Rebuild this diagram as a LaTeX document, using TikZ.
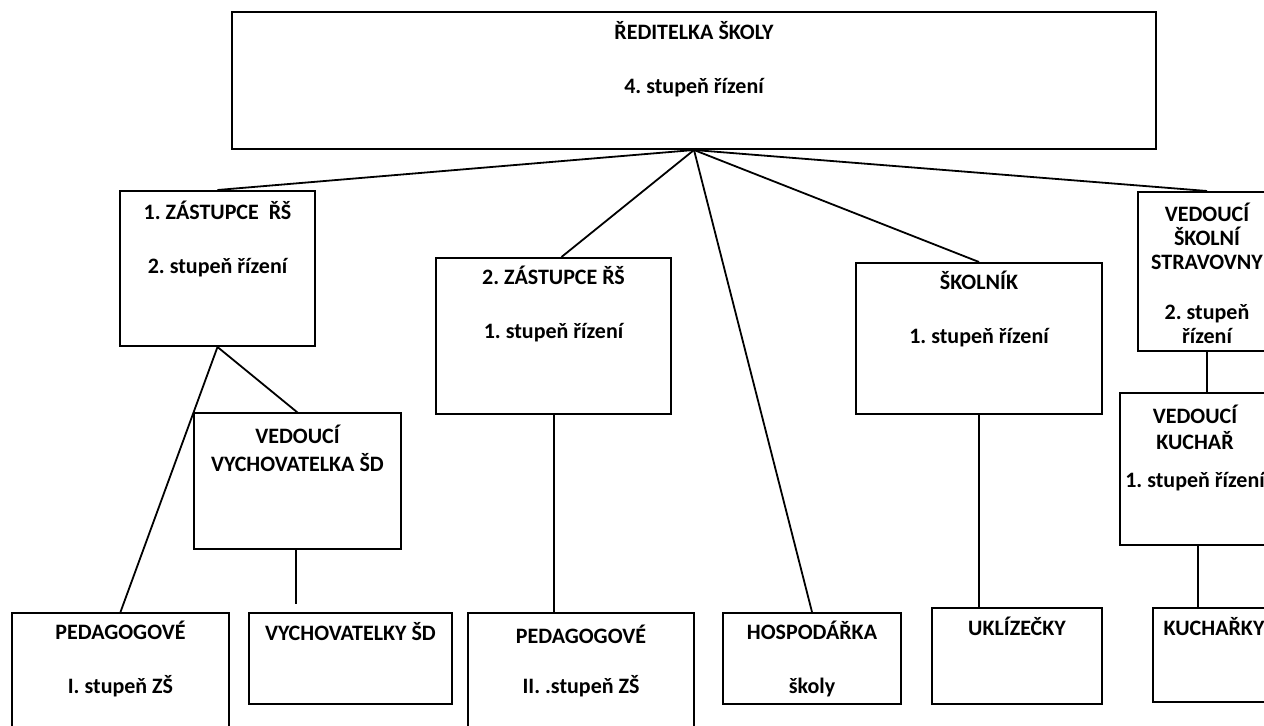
\documentclass[tikz,border=0pt]{standalone}
\usepackage{fontspec}
\setmainfont{Carlito}
\usepackage{tikz}
\usetikzlibrary{positioning}
\frenchspacing

\begin{document}
\begin{tikzpicture}[
x=0.5pt, y=-0.5pt,
line width=0.9pt,
orgbox/.style 2 args={rectangle, draw, line width=1pt, minimum width=#1*0.5pt, minimum height=#2*0.5pt, inner sep=0pt},
lbl/.style={anchor=north, align=center, inner sep=0pt, yshift=-4pt, font=\fontsize{11}{13}\selectfont\bfseries, execute at begin node={\rule{0pt}{10pt}}}
]
\useasboundingbox (0,0) rectangle (1264,726);

% top level
\node[orgbox={924}{137}, label={[lbl, yshift=-1pt]north:{ŘEDITELKA ŠKOLY\\[14pt]4. stupeň řízení}}] (head) at (694,80.5) {};

% second level
\node[orgbox={195}{155}, label={[lbl, yshift=-1pt]north:{1. ZÁSTUPCE\ \ ŘŠ\\[14pt]2. stupeň řízení}}] (dep1) at (217.5,268.5) {};
\node[orgbox={235}{156}, label={[lbl]north:{2. ZÁSTUPCE ŘŠ\\[14pt]1. stupeň řízení}}] (dep2) at (553.5,336) {};
\node[orgbox={246}{151}, label={[lbl]north:{ŠKOLNÍK\\[14pt]1. stupeň řízení}}] (janitor) at (979,338.5) {};
\node[orgbox={138}{159}, label={[lbl, yshift=-1.5pt]north:{VEDOUCÍ\\[-1pt]ŠKOLNÍ\\[-1pt]STRAVOVNY\\[12pt]2. stupeň\\[-1pt]řízení}}] (canteen) at (1207,271.5) {};

% third level
\node[orgbox={207}{136}, label={[lbl, yshift=-2pt]north:{VEDOUCÍ\\[1pt]VYCHOVATELKA ŠD}}] (vych) at (297.5,481.5) {};
\node[orgbox={150}{152}, label={[lbl, yshift=-2pt]north:{VEDOUCÍ\\KUCHAŘ\\[6pt]1. stupeň řízení}}] (chef) at (1195,469) {};

% bottom row
\node[orgbox={217}{154}, label={[lbl]north:{PEDAGOGOVÉ\\[14pt]I. stupeň ZŠ}}] (ped1) at (120.5,690) {};
\node[orgbox={203}{91}, label={[lbl]north:{VYCHOVATELKY ŠD}}] (vychs) at (350.5,658.5) {};
\node[orgbox={226}{154}, label={[lbl, yshift=-2pt]north:{PEDAGOGOVÉ\\[12pt]II. .stupeň ZŠ}}] (ped2) at (581,690) {};
\node[orgbox={178}{91}, label={[lbl]north:{HOSPODÁŘKA\\[14pt]školy}}] (hosp) at (812,658.5) {};
\node[orgbox={170}{96}, label={[lbl]north:{UKLÍZEČKY}}] (clean) at (1017,656) {};
\node[orgbox={122}{94}, label={[lbl]north:{KUCHAŘKY}}] (cooks) at (1214,655) {};

\coordinate (vychend) at (296,604);

\draw (head.south) -- (dep1.north);
\draw (head.south) -- ([xshift=4pt]dep2.north);
\draw (head.south) -- (hosp.north);
\draw (head.south) -- (janitor.north);
\draw (head.south) -- (canteen.north);
\draw (dep1.south) -- (vych.north);
\draw (dep1.south) -- (ped1.north);
\draw ([xshift=-0.75pt]vych.south) -- (vychend);
\draw ([xshift=0.25pt]dep2.south) -- ([xshift=0.25pt]dep2.south |- ped2.north);
\draw (janitor.south) -- (janitor.south |- clean.north);
\draw (canteen.south) -- (canteen.south |- chef.north);
\draw ([xshift=1.5pt]chef.south) -- ([xshift=1.5pt]chef.south |- cooks.north);

\end{tikzpicture}
\end{document}
